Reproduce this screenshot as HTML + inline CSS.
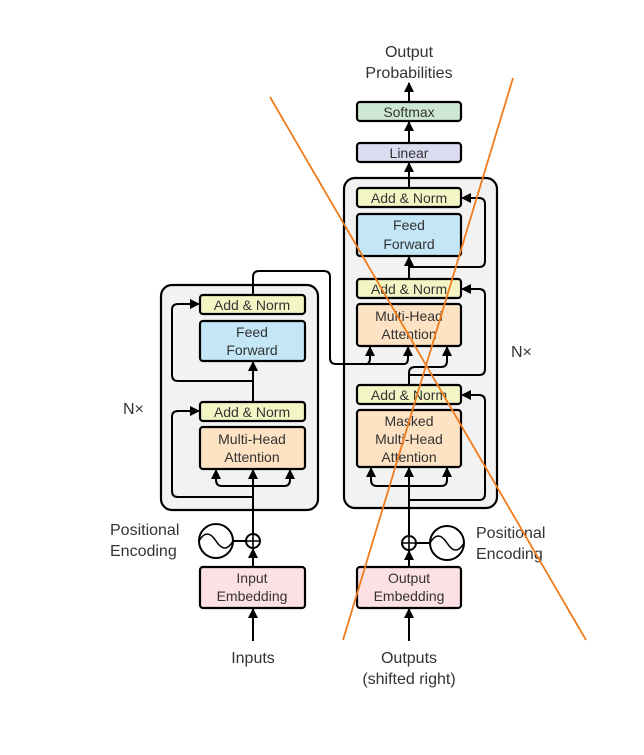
<!DOCTYPE html>
<html><head><meta charset="utf-8"><style>
html,body{margin:0;padding:0;background:#fff;}
svg text{font-family:"Liberation Sans",sans-serif;font-size:14px;fill:#333;}
svg text.b{font-size:16px;}
</style></head><body>
<svg width="644" height="750" viewBox="0 0 644 750" xmlns="http://www.w3.org/2000/svg">
<defs>
<marker id="a" viewBox="0 0 10 10" refX="9" refY="5" markerWidth="5" markerHeight="5" orient="auto"><path d="M0,0 L10,5 L0,10 z" fill="#000"/></marker>
</defs>
<g stroke="#000" stroke-width="2.2">
<rect x="161" y="285" width="157" height="225" rx="11" fill="#f2f2f2"/>
<rect x="344" y="178" width="153" height="330" rx="11" fill="#f2f2f2"/>
</g>
<g fill="none" stroke="#000" stroke-width="2" stroke-linejoin="round">
<path d="M253,641 V609" marker-end="url(#a)"/>
<path d="M253,567 V549" marker-end="url(#a)"/>
<path d="M233,541 H246"/>
<path d="M253,534 V470" marker-end="url(#a)"/>
<path d="M253,486 H222 q-6,0 -6,-6 V470" marker-end="url(#a)"/>
<path d="M253,486 H284 q6,0 6,-6 V470" marker-end="url(#a)"/>
<path d="M253,497 H178 q-6,0 -6,-6 V417 q0,-6 6,-6 H199" marker-end="url(#a)"/>
<path d="M253,402 V362" marker-end="url(#a)"/>
<path d="M253,381 H178 q-6,0 -6,-6 V310 q0,-6 6,-6 H199" marker-end="url(#a)"/>
<path d="M253,295 V277 q0,-6 6,-6 H324 q6,0 6,6 V358 q0,6 6,6 H366 q4,0 4,-6 V347" marker-end="url(#a)"/>
<path d="M366,364 H404 q4,0 4,-6 V347" marker-end="url(#a)"/>
<path d="M409,641 V609" marker-end="url(#a)"/>
<path d="M409,567 V551" marker-end="url(#a)"/>
<path d="M416,543 H430"/>
<path d="M409,536 V468" marker-end="url(#a)"/>
<path d="M409,486 H377 q-6,0 -6,-6 V468" marker-end="url(#a)"/>
<path d="M409,486 H441 q6,0 6,-6 V468" marker-end="url(#a)"/>
<path d="M409,500 H479 q6,0 6,-6 V401 q0,-6 -6,-6 H462" marker-end="url(#a)"/>
<path d="M409,385 V373 q0,-6 6,-6 H441 q6,0 6,-6 V347" marker-end="url(#a)"/>
<path d="M409,375 H479 q6,0 6,-6 V295 q0,-6 -6,-6 H462" marker-end="url(#a)"/>
<path d="M409,279 V257" marker-end="url(#a)"/>
<path d="M409,267 H479 q6,0 6,-6 V204 q0,-6 -6,-6 H462" marker-end="url(#a)"/>
<path d="M409,188 V163" marker-end="url(#a)"/>
<path d="M409,143 V122" marker-end="url(#a)"/>
<path d="M409,102 V83" marker-end="url(#a)"/>
</g>
<g stroke="#000" stroke-width="2.2">
<rect x="200" y="295" width="105" height="19" rx="3" fill="#f3f6c4"/>
<rect x="200" y="321" width="105" height="40" rx="3" fill="#c3e7f6"/>
<rect x="200" y="402" width="105" height="19" rx="3" fill="#f3f6c4"/>
<rect x="200" y="427" width="105" height="42" rx="3" fill="#fde2c3"/>
<rect x="200" y="567" width="105" height="41" rx="3" fill="#fce0e3"/>
<rect x="357" y="102" width="104" height="19" rx="3" fill="#cde8d2"/>
<rect x="357" y="143" width="104" height="19" rx="3" fill="#dcdcf0"/>
<rect x="357" y="188" width="104" height="19" rx="3" fill="#f3f6c4"/>
<rect x="357" y="214" width="104" height="42" rx="3" fill="#c3e7f6"/>
<rect x="357" y="279" width="104" height="19" rx="3" fill="#f3f6c4"/>
<rect x="357" y="304" width="104" height="42" rx="3" fill="#fde2c3"/>
<rect x="357" y="385" width="104" height="19" rx="3" fill="#f3f6c4"/>
<rect x="357" y="410" width="104" height="57" rx="3" fill="#fde2c3"/>
<rect x="357" y="567" width="104" height="41" rx="3" fill="#fce0e3"/>
</g>
<g fill="#fff" stroke="#000" stroke-width="2">
<circle cx="216" cy="541" r="17"/><circle cx="253" cy="541" r="7"/>
<circle cx="447" cy="543" r="17"/><circle cx="409" cy="543" r="7"/>
</g>
<g fill="none" stroke="#000" stroke-width="1.6">
<path d="M199,541 q8,-14 17,0 q9,14 17,0"/>
<path d="M430,543 q8,-14 17,0 q9,14 17,0"/>
<path d="M246,541 H260 M253,534 V548"/>
<path d="M402,543 H416 M409,536 V550"/>
</g>
<g text-anchor="middle">
<text x="252" y="310">Add &amp; Norm</text>
<text x="252" y="337">Feed</text><text x="252" y="355">Forward</text>
<text x="252" y="417">Add &amp; Norm</text>
<text x="252" y="444">Multi-Head</text><text x="252" y="462">Attention</text>
<text x="252" y="583">Input</text><text x="252" y="601">Embedding</text>
<text x="409" y="117">Softmax</text>
<text x="409" y="158">Linear</text>
<text x="409" y="203">Add &amp; Norm</text>
<text x="409" y="230">Feed</text><text x="409" y="249">Forward</text>
<text x="409" y="294">Add &amp; Norm</text>
<text x="409" y="321">Multi-Head</text><text x="409" y="339">Attention</text>
<text x="409" y="400">Add &amp; Norm</text>
<text x="409" y="426">Masked</text><text x="409" y="444">Multi-Head</text><text x="409" y="462">Attention</text>
<text x="409" y="583">Output</text><text x="409" y="601">Embedding</text>
<text class="b" x="409" y="57">Output</text><text class="b" x="409" y="78">Probabilities</text>
<text class="b" x="253" y="663">Inputs</text>
<text class="b" x="409" y="663">Outputs</text>
<text class="b" x="409" y="684">(shifted right)</text>
</g>
<text class="b" x="110" y="535">Positional</text>
<text class="b" x="110" y="556">Encoding</text>
<text class="b" x="476" y="538">Positional</text>
<text class="b" x="476" y="559">Encoding</text>
<text class="b" x="123" y="414">N×</text>
<text class="b" x="511" y="357">N×</text>
<g stroke="#f07c1e" stroke-width="1.8">
<line x1="270" y1="97" x2="586" y2="640"/>
<line x1="513" y1="78" x2="343" y2="640"/>
</g>
</svg>
</body></html>
